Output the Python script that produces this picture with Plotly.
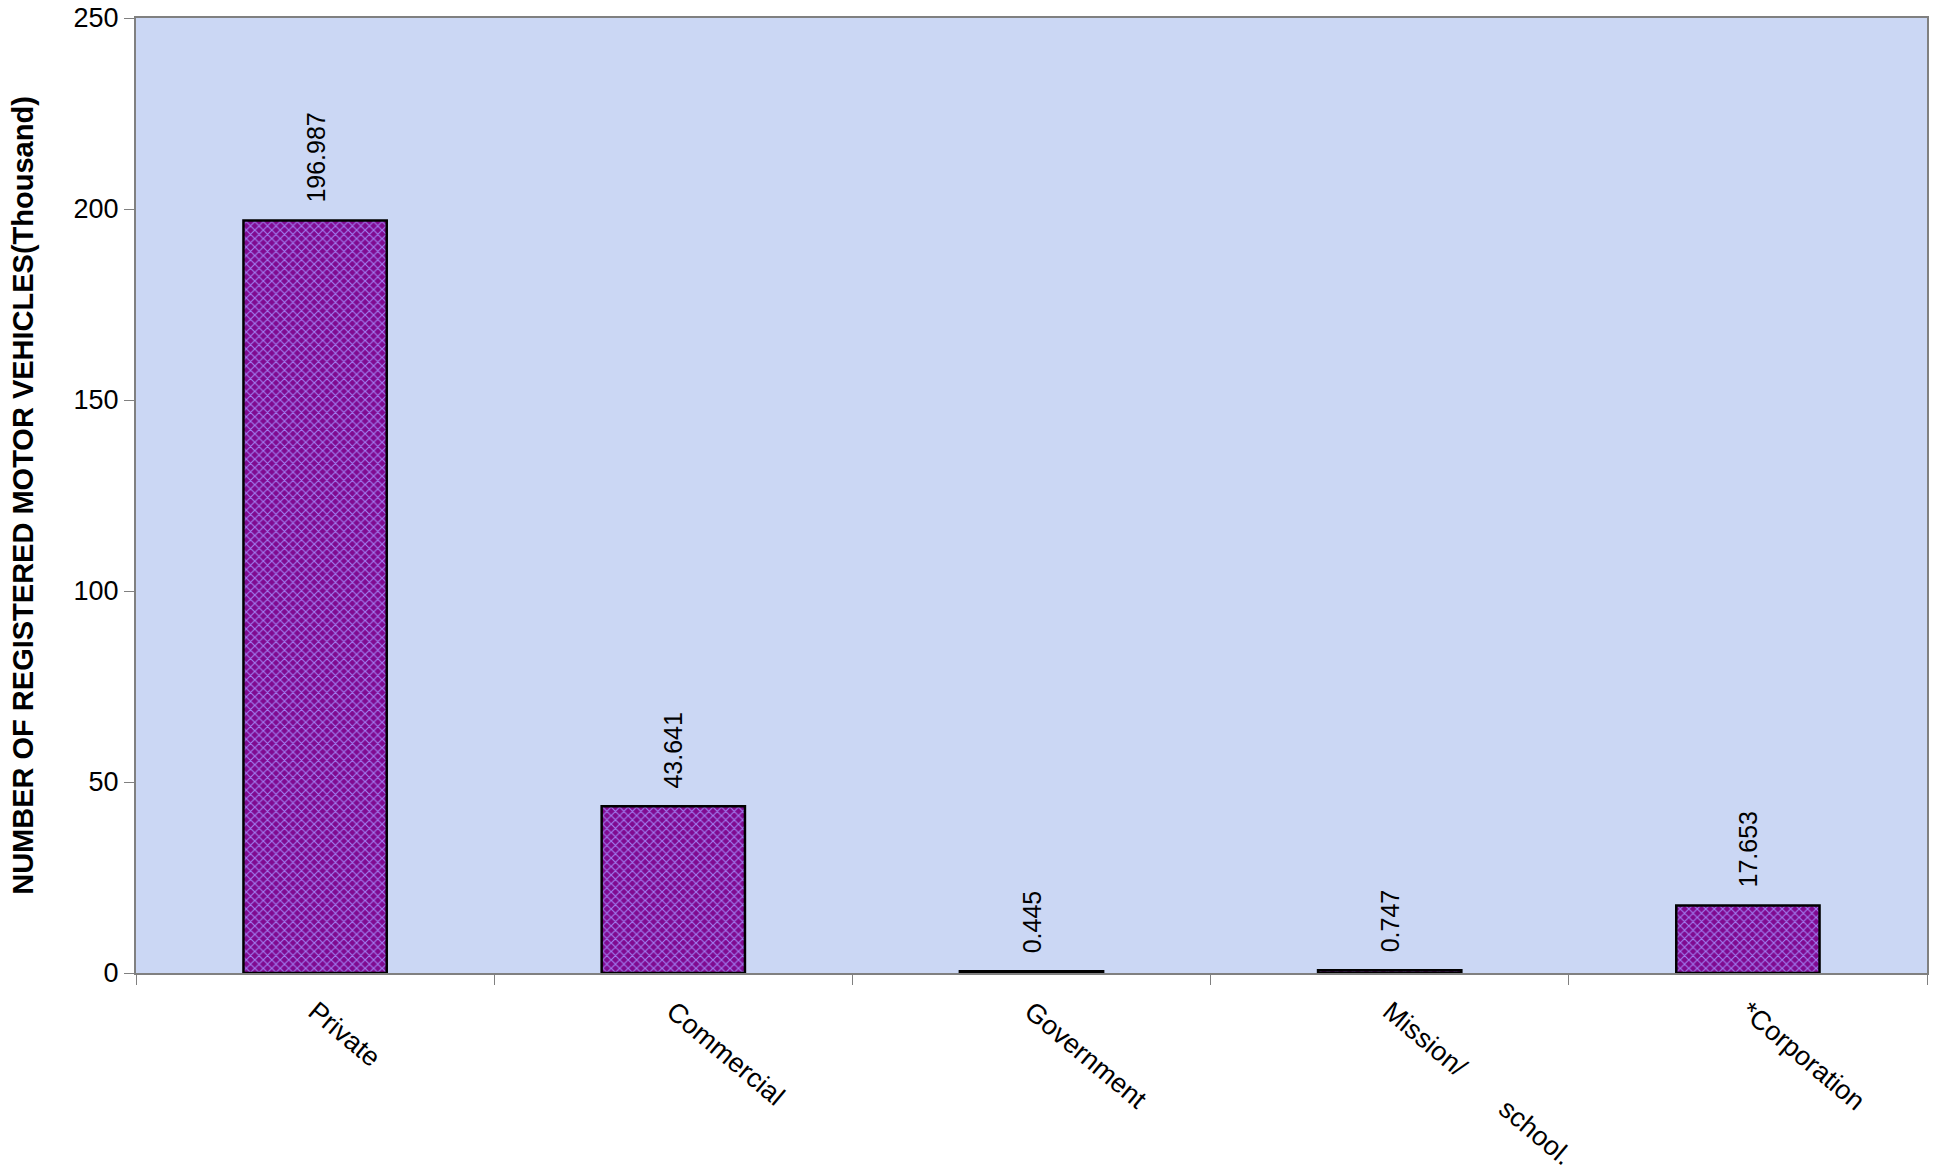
import plotly.graph_objects as go

categories = ["Private", "Commercial", "Government",
              "Mission/" + "\u00a0" * 7 + "school.", "*Corporation"]
values = [196.987, 43.641, 0.445, 0.747, 17.653]
value_labels = ["196.987", "43.641", "0.445", "0.747", "17.653"]
y_ticks = [0, 50, 100, 150, 200, 250]

fig = go.Figure()
fig.add_trace(go.Bar(
    x=categories, y=values, width=0.4,
    marker=dict(
        color="#8a1a9e",
        line=dict(color="black", width=2.5),
        pattern=dict(shape="x", fgcolor="#a07cf0", bgcolor="#800a90",
                     size=6, solidity=0.35, fillmode="replace"),
    ),
    hoverinfo="skip",
))

for c, v, t in zip(categories, values, value_labels):
    fig.add_annotation(x=c, y=v, text=t, textangle=-90, showarrow=False,
                       xanchor="center", yanchor="bottom", yshift=16,
                       font=dict(family="Liberation Sans, Arial", size=25, color="black"))

fig.update_layout(
    width=1933, height=1175,
    margin=dict(l=136, r=6, t=18, b=202),
    paper_bgcolor="white",
    plot_bgcolor="#cbd7f4",
    showlegend=False,
    font=dict(family="Liberation Sans, Arial", color="black"),
    bargap=0.6,
)
fig.update_xaxes(
    showline=True, linecolor="#808080", linewidth=2, mirror=True,
    ticks="outside", ticklen=10, tickcolor="#808080", tickson="boundaries",
    tickangle=40, tickfont=dict(size=27), ticklabelstandoff=10,
    showgrid=False, automargin=False,
)
fig.update_yaxes(
    range=[0, 250], tickvals=y_ticks,
    showline=True, linecolor="#808080", linewidth=2, mirror=True,
    ticks="outside", ticklen=10, tickcolor="#808080",
    tickfont=dict(size=27), showgrid=False, zeroline=False, automargin=False,
    title=dict(text="<b>NUMBER OF REGISTERED MOTOR VEHICLES(Thousand)</b>",
               font=dict(size=29), standoff=31),
)

fig.write_html("out.html", config={"displayModeBar": False},
               post_script="document.body.style.margin='0';document.body.style.overflow='hidden';")
